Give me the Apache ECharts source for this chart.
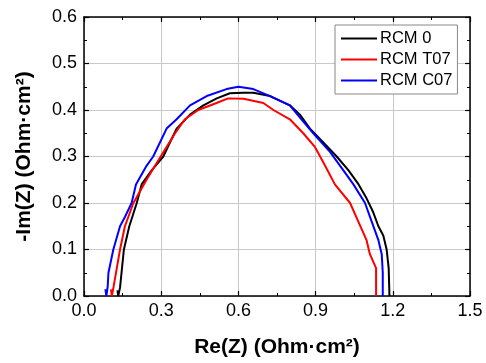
<!DOCTYPE html>
<html><head><meta charset="utf-8">
<script src="https://cdn.jsdelivr.net/npm/echarts@6/dist/echarts.min.js"></script>
<style>html,body{margin:0;padding:0;background:#fff}#c{width:486px;height:363px}</style>
</head><body><div id="c"></div>
<script>
const seriesNames = ['RCM 0', 'RCM T07', 'RCM C07'];
const rcm0Re = [0.130,0.133,0.140,0.155,0.176,0.205,0.224,0.263,0.308,0.334,0.360,0.412,0.464,0.516,0.567,0.619,0.658,0.723,0.800,0.839,0.878,0.930,0.982,1.028,1.067,1.098,1.124,1.144,1.163,1.176,1.184,1.187];
const rcm0Im = [0.012,0.000,0.018,0.100,0.150,0.200,0.240,0.270,0.300,0.330,0.360,0.390,0.410,0.425,0.436,0.437,0.437,0.430,0.410,0.390,0.360,0.330,0.300,0.270,0.240,0.210,0.180,0.150,0.130,0.100,0.060,0.000];
const rcmT07Re = [0.105,0.108,0.115,0.140,0.159,0.192,0.243,0.298,0.354,0.392,0.444,0.515,0.560,0.620,0.697,0.736,0.800,0.852,0.898,0.937,0.975,1.034,1.066,1.098,1.111,1.135,1.135];
const rcmT07Im = [0.014,0.000,0.020,0.100,0.150,0.200,0.250,0.300,0.350,0.380,0.400,0.415,0.425,0.424,0.415,0.400,0.380,0.350,0.320,0.280,0.240,0.200,0.160,0.120,0.090,0.060,0.000];
const rcmC07Re = [0.083,0.087,0.092,0.095,0.114,0.140,0.159,0.185,0.202,0.243,0.269,0.321,0.360,0.412,0.477,0.554,0.600,0.658,0.723,0.800,0.845,0.891,0.956,1.008,1.047,1.092,1.118,1.144,1.157,1.161,1.161];
const rcmC07Im = [0.015,0.000,0.020,0.050,0.100,0.150,0.170,0.200,0.240,0.280,0.300,0.360,0.380,0.410,0.430,0.445,0.450,0.445,0.430,0.410,0.380,0.350,0.310,0.270,0.240,0.200,0.160,0.120,0.090,0.050,0.000];
const colors = ['#000000', '#ff0000', '#0000ff'];
const xTicks = [0.0, 0.3, 0.6, 0.9, 1.2, 1.5];
const yTicks = [0.0, 0.1, 0.2, 0.3, 0.4, 0.5, 0.6];

const zip = (a, b) => a.map((v, i) => [v, b[i]]);
const allData = [zip(rcm0Re, rcm0Im), zip(rcmT07Re, rcmT07Im), zip(rcmC07Re, rcmC07Im)];
const font = 'Liberation Sans, Arial, sans-serif';

function axisBase(show) {
  return {
    axisLine: { show: true, onZero: false, lineStyle: { color: '#000', width: 1.5 } },
    axisTick: { show: true, inside: true, length: 5, lineStyle: { color: '#000', width: 1.2 } },
    minorTick: { show: true, splitNumber: 2, length: 3, lineStyle: { color: '#000', width: 1 } },
    axisLabel: { show: show, color: '#000', fontSize: 18, fontFamily: font },
  };
}

const chart = echarts.init(document.getElementById('c'));
chart.setOption({
  animation: false,
  backgroundColor: '#fff',
  grid: { left: 84, right: 16, top: 17, bottom: 65 },
  legend: {
    orient: 'vertical',
    left: 335, top: 25,
    padding: [5, 5, 5, 6],
    itemGap: 4,
    itemWidth: 36, itemHeight: 2,
    icon: 'rect',
    backgroundColor: '#fff',
    borderColor: '#888', borderWidth: 1, borderRadius: 0,
    textStyle: { color: '#000', fontSize: 16.5, fontFamily: font, padding: [0, 0, 0, -2] },
    data: seriesNames
  },
  xAxis: [
    Object.assign(axisBase(true), {
      type: 'value', position: 'bottom', min: 0, max: 1.5, interval: 0.3,
      axisLabel: { color: '#000', fontSize: 18, fontFamily: font, margin: 6,
        formatter: v => xTicks.find(t => Math.abs(t - v) < 1e-9) !== undefined ? v.toFixed(1) : '' },
      splitLine: { show: true, lineStyle: { color: '#c8c8c8', width: 1 } },
      name: 'Re(Z) (Ohm·cm²)', nameLocation: 'middle', nameGap: 41,
      nameTextStyle: { color: '#000', fontSize: 21, fontWeight: 'bold', fontFamily: font }
    }),
    Object.assign(axisBase(false), {
      type: 'value', position: 'top', min: 0, max: 1.5, interval: 0.3,
      splitLine: { show: false }
    })
  ],
  yAxis: [
    Object.assign(axisBase(true), {
      type: 'value', position: 'left', min: 0, max: 0.6, interval: 0.1,
      axisLabel: { color: '#000', fontSize: 18, fontFamily: font, margin: 7,
        formatter: v => yTicks.find(t => Math.abs(t - v) < 1e-9) !== undefined ? v.toFixed(1) : '' },
      splitLine: { show: true, lineStyle: { color: '#c8c8c8', width: 1 } },
      name: '-Im(Z) (Ohm·cm²)', nameLocation: 'middle', nameGap: 49, nameRotate: 90,
      nameTextStyle: { color: '#000', fontSize: 21, fontWeight: 'bold', fontFamily: font }
    }),
    Object.assign(axisBase(false), {
      type: 'value', position: 'right', min: 0, max: 0.6, interval: 0.1,
      splitLine: { show: false }
    })
  ],
  series: seriesNames.map((n, i) => ({
    name: n, type: 'line', data: allData[i], symbol: 'none',
    xAxisIndex: 0, yAxisIndex: 0,
    itemStyle: { color: colors[i] },
    lineStyle: { color: colors[i], width: 2 }
  }))
});
</script></body></html>
